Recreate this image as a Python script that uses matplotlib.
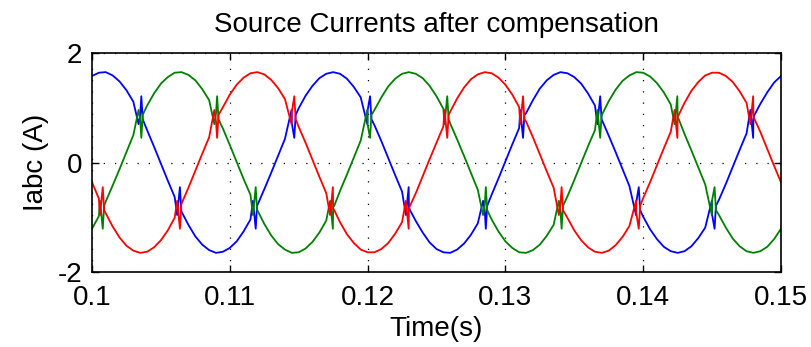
import numpy as np
import matplotlib
matplotlib.use("Agg")
import matplotlib.pyplot as plt

# sample times (s), read every 0.5 ms
t = [0.1000, 0.1005, 0.1010, 0.1015, 0.1020, 0.1025, 0.1030, 0.1035, 0.1040, 0.1045,
     0.1050, 0.1055, 0.1060, 0.1065, 0.1070, 0.1075, 0.1080, 0.1085, 0.1090, 0.1095,
     0.1100, 0.1105, 0.1110, 0.1115, 0.1120, 0.1125, 0.1130, 0.1135, 0.1140, 0.1145,
     0.1150, 0.1155, 0.1160, 0.1165, 0.1170, 0.1175, 0.1180, 0.1185, 0.1190, 0.1195,
     0.1200, 0.1205, 0.1210, 0.1215, 0.1220, 0.1225, 0.1230, 0.1235, 0.1240, 0.1245,
     0.1250, 0.1255, 0.1260, 0.1265, 0.1270, 0.1275, 0.1280, 0.1285, 0.1290, 0.1295,
     0.1300, 0.1305, 0.1310, 0.1315, 0.1320, 0.1325, 0.1330, 0.1335, 0.1340, 0.1345,
     0.1350, 0.1355, 0.1360, 0.1365, 0.1370, 0.1375, 0.1380, 0.1385, 0.1390, 0.1395,
     0.1400, 0.1405, 0.1410, 0.1415, 0.1420, 0.1425, 0.1430, 0.1435, 0.1440, 0.1445,
     0.1450, 0.1455, 0.1460, 0.1465, 0.1470, 0.1475, 0.1480, 0.1485, 0.1490, 0.1495,
     0.1500]

# phase currents (A)
ia_blue = [1.58, 1.64, 1.65, 1.59, 1.48, 1.32, 1.11, 0.87, 0.59, 0.29,
           -0.02, -0.33, -0.63, -0.90, -1.14, -1.35, -1.50, -1.60, -1.65, -1.63,
           -1.56, -1.44, -1.26, -1.04, -0.78, -0.49, -0.19, 0.12, 0.43, 0.72,
           0.99, 1.22, 1.40, 1.54, 1.62, 1.65, 1.62, 1.53, 1.38, 1.19,
           0.95, 0.68, 0.39, 0.08, -0.23, -0.53, -0.81, -1.07, -1.28, -1.46,
           -1.58, -1.64, -1.65, -1.59, -1.48, -1.32, -1.11, -0.87, -0.59, -0.29,
           0.02, 0.33, 0.63, 0.90, 1.14, 1.35, 1.50, 1.60, 1.65, 1.63,
           1.56, 1.44, 1.26, 1.04, 0.78, 0.49, 0.19, -0.12, -0.43, -0.72,
           -0.99, -1.22, -1.40, -1.54, -1.62, -1.65, -1.62, -1.53, -1.38, -1.19,
           -0.95, -0.68, -0.39, -0.08, 0.23, 0.53, 0.81, 1.07, 1.28, 1.46,
           1.58]
ib_green = [-1.21, -0.98, -0.71, -0.42, -0.12, 0.19, 0.50, 0.78, 1.04, 1.26,
            1.44, 1.56, 1.64, 1.65, 1.60, 1.50, 1.34, 1.14, 0.90, 0.62,
            0.32, 0.01, -0.30, -0.59, -0.87, -1.12, -1.33, -1.49, -1.59, -1.65,
            -1.64, -1.57, -1.45, -1.28, -1.06, -0.81, -0.52, -0.22, 0.09, 0.40,
            0.69, 0.96, 1.19, 1.39, 1.53, 1.62, 1.65, 1.62, 1.54, 1.40,
            1.21, 0.98, 0.71, 0.42, 0.12, -0.19, -0.50, -0.78, -1.04, -1.26,
            -1.44, -1.56, -1.64, -1.65, -1.60, -1.50, -1.34, -1.14, -0.90, -0.62,
            -0.32, -0.01, 0.30, 0.59, 0.87, 1.12, 1.33, 1.49, 1.59, 1.65,
            1.64, 1.57, 1.45, 1.28, 1.06, 0.81, 0.52, 0.22, -0.09, -0.40,
            -0.69, -0.96, -1.19, -1.39, -1.53, -1.62, -1.65, -1.62, -1.54, -1.40,
            -1.21]
ic_red = [-0.36, -0.66, -0.93, -1.17, -1.37, -1.52, -1.61, -1.65, -1.63, -1.55,
          -1.42, -1.24, -1.01, -0.75, -0.46, -0.15, 0.16, 0.46, 0.75, 1.01,
          1.24, 1.42, 1.55, 1.63, 1.65, 1.61, 1.51, 1.36, 1.16, 0.92,
          0.65, 0.36, 0.05, -0.26, -0.56, -0.84, -1.09, -1.31, -1.47, -1.59,
          -1.64, -1.64, -1.58, -1.47, -1.30, -1.09, -0.84, -0.56, -0.25, 0.06,
          0.36, 0.66, 0.93, 1.17, 1.37, 1.52, 1.61, 1.65, 1.63, 1.55,
          1.42, 1.24, 1.01, 0.75, 0.46, 0.15, -0.16, -0.46, -0.75, -1.01,
          -1.24, -1.42, -1.55, -1.63, -1.65, -1.61, -1.51, -1.36, -1.16, -0.92,
          -0.65, -0.36, -0.05, 0.26, 0.56, 0.84, 1.09, 1.31, 1.47, 1.59,
          1.64, 1.64, 1.58, 1.47, 1.30, 1.09, 0.84, 0.56, 0.25, -0.06,
          -0.36]

# switching notches near the phase crossings
blue_notch_t = [0.10338, 0.10358, 0.10368, 0.10618, 0.10638, 0.10648,
                0.11168, 0.11188, 0.11198, 0.11448, 0.11468, 0.11478,
                0.11998, 0.12018, 0.12028, 0.12278, 0.12298, 0.12308,
                0.12838, 0.12858, 0.12868, 0.13108, 0.13128, 0.13138,
                0.13668, 0.13688, 0.13698, 0.13948, 0.13968, 0.13978,
                0.14498, 0.14518, 0.14528, 0.14778, 0.14798, 0.14808]
blue_notch_i = [0.70, 1.21, 0.79, -0.96, -0.45, -0.87,
                -0.70, -1.21, -0.79, 0.96, 0.45, 0.87,
                0.70, 1.21, 0.79, -0.96, -0.45, -0.87,
                -0.70, -1.21, -0.79, 0.96, 0.45, 0.87,
                0.70, 1.21, 0.79, -0.96, -0.45, -0.87,
                -0.70, -1.21, -0.79, 0.96, 0.45, 0.87]

green_notch_t = [0.10058, 0.10078, 0.10088, 0.10338, 0.10358, 0.10368,
                 0.10888, 0.10908, 0.10918, 0.11168, 0.11188, 0.11198,
                 0.11728, 0.11748, 0.11758, 0.11998, 0.12018, 0.12028,
                 0.12558, 0.12578, 0.12588, 0.12838, 0.12858, 0.12868,
                 0.13388, 0.13408, 0.13418, 0.13668, 0.13688, 0.13698,
                 0.14228, 0.14248, 0.14258, 0.14498, 0.14518, 0.14528]
green_notch_i = [-0.70, -1.21, -0.79, 0.96, 0.45, 0.87,
                 0.70, 1.21, 0.79, -0.96, -0.45, -0.87,
                 -0.70, -1.21, -0.79, 0.96, 0.45, 0.87,
                 0.70, 1.21, 0.79, -0.96, -0.45, -0.87,
                 -0.70, -1.21, -0.79, 0.96, 0.45, 0.87,
                 0.70, 1.21, 0.79, -0.96, -0.45, -0.87]

red_notch_t = [0.10058, 0.10078, 0.10088, 0.10618, 0.10638, 0.10648,
               0.10888, 0.10908, 0.10918, 0.11448, 0.11468, 0.11478,
               0.11728, 0.11748, 0.11758, 0.12278, 0.12298, 0.12308,
               0.12558, 0.12578, 0.12588, 0.13108, 0.13128, 0.13138,
               0.13388, 0.13408, 0.13418, 0.13948, 0.13968, 0.13978,
               0.14228, 0.14248, 0.14258, 0.14778, 0.14798, 0.14808]
red_notch_i = [-0.96, -0.45, -0.87, -0.70, -1.21, -0.79,
               0.96, 0.45, 0.87, 0.70, 1.21, 0.79,
               -0.96, -0.45, -0.87, -0.70, -1.21, -0.79,
               0.96, 0.45, 0.87, 0.70, 1.21, 0.79,
               -0.96, -0.45, -0.87, -0.70, -1.21, -0.79,
               0.96, 0.45, 0.87, 0.70, 1.21, 0.79]

x_ticks = [0.1, 0.11, 0.12, 0.13, 0.14, 0.15]
x_tick_labels = ["0.1", "0.11", "0.12", "0.13", "0.14", "0.15"]
y_ticks = [-2, 0, 2]


def merge(ts, vals, nt, nv):
    tt = np.concatenate([ts, nt])
    vv = np.concatenate([vals, nv])
    order = np.argsort(tt, kind="stable")
    return tt[order], vv[order]


plt.rcParams["font.family"] = ["Liberation Sans", "DejaVu Sans"]
plt.rcParams["axes.unicode_minus"] = False

fig = plt.figure(figsize=(8.12, 3.47), dpi=100)
ax = fig.add_axes([0.1133, 0.2161, 0.8485, 0.6312])

for vals, nt, nv, col in [(ia_blue, blue_notch_t, blue_notch_i, "#0000ff"),
                          (ib_green, green_notch_t, green_notch_i, "#008000"),
                          (ic_red, red_notch_t, red_notch_i, "#ff0000")]:
    tt, vv = merge(t, vals, nt, nv)
    ax.plot(tt, vv, color=col, lw=1.3)

ax.set_xlim(0.1, 0.15)
ax.set_ylim(-2, 2)
ax.set_xticks(x_ticks)
ax.set_xticklabels(x_tick_labels)
ax.set_yticks(y_ticks)
ax.tick_params(direction="in", top=True, right=True, length=5,
               labelsize=20, width=1)
ax.tick_params(axis="x", pad=9)
ax.tick_params(axis="y", pad=7)
ax.grid(True, color="black", linestyle=(0, (1, 8)), linewidth=0.9)
for sp in ax.spines.values():
    sp.set_linewidth(1.2)

ax.set_title("Source Currents after compensation", fontsize=20, pad=15)
ax.set_xlabel("Time(s)", fontsize=20, labelpad=4)
ax.set_ylabel("Iabc (A)", fontsize=20, labelpad=6)

fig.savefig("out.png", dpi=100)
